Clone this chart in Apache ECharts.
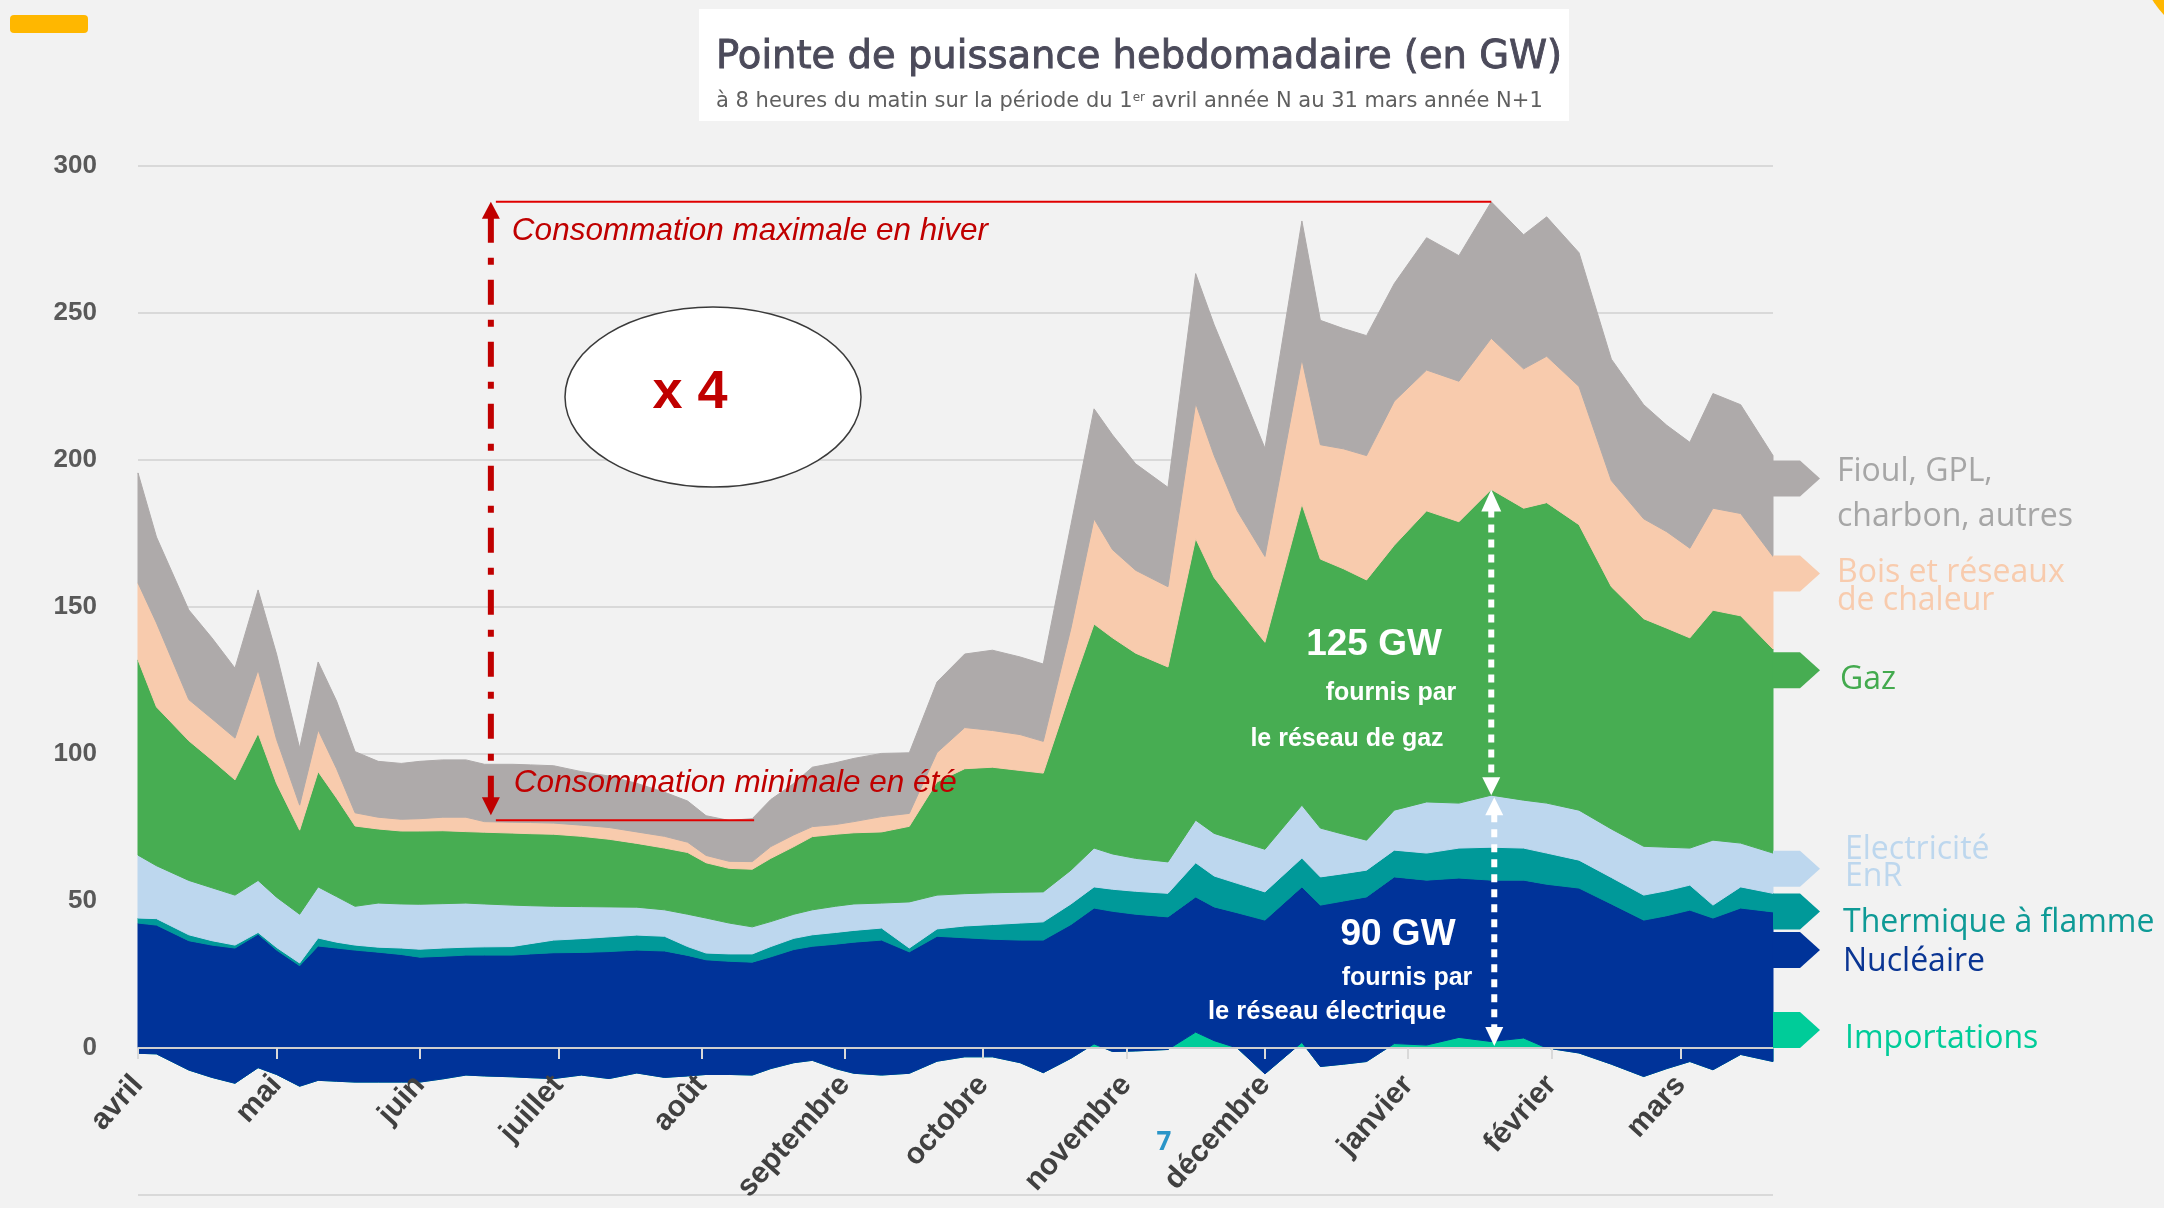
<!DOCTYPE html>
<html>
<head>
<meta charset="utf-8">
<script src="https://cdn.jsdelivr.net/npm/echarts@6/dist/echarts.min.js"></script>
<style>
html,body{margin:0;padding:0;background:#f2f2f2;}
#c{width:2164px;height:1208px;}
</style>
</head>
<body>
<div id="c"></div>
<script>
// ---- data (day offset from 1 April of year N, GW) ----
const days = [0,4,11,16,21,26,30,35,39,43,47,52,57,61,66,71,75,81,85,90,96,102,108,114,119,123,128,133,137,142,146,151,155,161,167,173,179,185,191,196,202,207,211,216,223,229,233,238,244,252,256,261,266,272,279,286,293,300,305,312,319,326,331,336,341,347,354];
const importations = [-1.8,-2,-7.5,-10,-12,-6.7,-9,-13,-11,-11.3,-11.6,-11.6,-11.6,-11.6,-10.5,-9.2,-9.5,-9.8,-10.1,-10.4,-9.2,-10.4,-8.5,-10,-9.5,-9,-9,-9.2,-7,-5,-4.2,-7,-8.6,-9.2,-8.6,-4.5,-3,-3,-5,-8.4,-3.5,1.4,-1.2,-1,-0.5,5.4,2.5,0,-8.8,1.9,-6.3,-5.5,-4.6,1.5,1,3.6,2.2,3.4,0,-1.7,-5.5,-9.7,-7,-4.6,-7.4,-2.2,-4.6];
const nucleaire = [44.3,43.8,44,45,46,45.4,42.3,41,45.7,45.3,44.9,44.2,43.4,42.5,41.7,40.8,41.1,41.4,42.1,42.8,41.7,43.2,41.8,43,41,39,38.5,38.4,38,38.5,38.8,42.3,44.6,45.9,41.3,42.5,40.5,40,41.7,45.1,45.5,46.2,47.7,46.5,45.1,46,45.5,46,52.3,52.9,54.9,55.5,56,56.7,56.1,54.2,54.9,53.7,55.7,56.1,54.5,53.2,52,51.5,51.6,49.8,50.9];
const thermique = [1.7,2.2,2,1.5,1,0.6,0.9,0.9,2.7,2,1.7,1.7,2.2,2.7,2.8,2.7,2.8,2.9,3.5,4.3,4.7,5,5.1,5,3,2.3,2.5,2.8,3.5,3.8,3.9,4,4,4.1,1.3,2.5,4,5,5.8,6.2,7,7.2,7.5,7.8,8,11.6,10.5,10,9.6,9.8,9.6,9.3,9.1,9.1,9.2,10.2,11.2,10.9,10.6,9.5,9,8.5,8.5,8.5,4.4,7.2,6.3];
const electriciteEnR = [21.4,18,18.5,18,17,17.7,17.1,16.6,17.4,15.5,13.2,15,15,15.3,15.1,15,14.6,14.1,12.9,11.5,10.9,10.2,9.5,9,11,11.9,10.5,9.2,8.5,8.2,8.5,8.9,9,8.5,15.7,11.5,11,10.8,10.5,10.2,11.5,13.2,12,11.2,10.7,14.5,14.5,14.5,14.5,18,16.6,13.4,10.2,13.6,17.4,15.3,17.7,16.3,17,17,16.5,16.6,14.8,12.6,22.1,14.9,13.7];
const gaz = [66.4,54,47.5,43.5,39.2,50,38.7,28.6,39.2,33.5,27.3,25.2,24.8,24.9,24.8,24.3,24.4,24.5,24.5,24.5,23.9,23,21.7,21,21,18.8,18.6,19.6,21.5,23,24.9,24.5,24.2,24.2,25.7,38.5,42.5,42.7,41.4,40.4,61.2,76.2,73.5,69.8,66.3,95.8,87,79.3,70.4,102.4,91.5,90.3,88.5,90.1,99,95.7,104,99.3,102.2,97.1,82.4,77.4,74.5,71.5,78.2,77.3,69.4];
const bois = [26.2,28.6,14,14,14.2,21.6,15,8.5,14.2,10,4.5,4,4,4.2,4.6,4.9,3.6,3.7,3.8,3.8,3.8,4,3.9,4,3.5,2.5,2.4,2.6,4,4,3.4,3.3,3.8,5.2,4.4,10,14,12.5,12.2,10.8,21.1,35.8,30,28.2,27.3,46,41.5,32.9,29.2,49.3,38.9,40.8,42.3,49,47.9,47.8,51.4,47.4,49.8,47,36.1,34,32.8,30.5,34.7,34.8,31.5];
const fioul = [37.4,29.2,30.5,27.5,23.8,27.2,29,19.4,23.1,23,20.8,19,19,19.5,19.5,19.5,19.5,19.7,19.6,19.5,18.2,17.5,16.5,15,14,13.5,13.9,14.6,16,17.5,20.2,21,21.5,21.5,20.6,24,25,27.3,26.4,26.3,35.2,37.4,39,36.2,33.8,44.1,44.5,44.3,36.8,47,42.3,40.9,40.8,40,45,42.7,46.4,45.6,47.4,45.5,41.3,38.8,36.2,36,39,37,34.3];

const monthDays = [0,30,61,91,122,153,183,214,244,275,306,334];
const monthNames = ['avril','mai','juin','juillet','août','septembre','octobre','novembre','décembre','janvier','février','mars'];

// ---- series definitions (stack order bottom -> top) ----
const layers = [
  {name:'Importations', data:importations, color:'#00cc99'},
  {name:'Nucléaire', data:nucleaire, color:'#003399'},
  {name:'Thermique à flamme', data:thermique, color:'#009999'},
  {name:'Electricité EnR', data:electriciteEnR, color:'#bdd7ee'},
  {name:'Gaz', data:gaz, color:'#47ad52'},
  {name:'Bois et réseaux de chaleur', data:bois, color:'#f8cbad'},
  {name:'Fioul, GPL, charbon, autres', data:fioul, color:'#aeaaaa'}
];

// legend arrows: level (GW) where each arrow sits, and the label text
const legendMarks = [
  {level:6.1,   lines:['Importations'], color:'#00cc99', dx:72, dys:[9]},
  {level:33.3,  lines:['Nucléaire'], color:'#0a3593', dx:70, dys:[12]},
  {level:46.4,  lines:['Thermique à flamme'], color:'#0e9a96', dx:70, dys:[11]},
  {level:61,    lines:['Electricité','EnR'], color:'#bdd7ee', dx:72, dys:[-19,8]},
  {level:128.5, lines:['Gaz'], color:'#43aa4e', dx:67, dys:[10]},
  {level:161.4, lines:['Bois et réseaux','de chaleur'], color:'#f8cbad', dx:64, dys:[-1,27]},
  {level:193.7, lines:['Fioul, GPL,','charbon, autres'], color:'#a6a6a6', dx:64, dys:[-7,38]}
];

// ---- cumulative stacking (Excel-like: every layer sits on the running sum) ----
let running = days.map(function(){ return 0; });
const bands = layers.map(function(l){
  const lower = running;
  const upper = lower.map(function(b,i){ return b + l.data[i]; });
  running = upper;
  return {name:l.name, color:l.color, rows: days.map(function(d,i){ return [d, lower[i], upper[i]]; })};
});

// one filled band per layer, drawn through the cartesian scales
function bandRenderer(color){
  return function(params, api){
    if (params.dataIndexInside !== 0) return null;
    const n = params.dataInsideLength;
    const pts = [];
    for (let j = 0; j < n; j++) pts.push(api.coord([api.value(0, j), api.value(2, j)]));
    for (let j = n - 1; j >= 0; j--) pts.push(api.coord([api.value(0, j), api.value(1, j)]));
    return {type:'polygon', shape:{points:pts}, style:{fill:color, stroke:color, lineWidth:1}, silent:true};
  };
}

const chart = echarts.init(document.getElementById('c'), null, {renderer:'canvas', width:2164, height:1208});
const lastDay = days[days.length-1];

const option = {
  animation:false,
  backgroundColor:'#f2f2f2',
  grid:{left:138, right:391, top:166, bottom:13, containLabel:false, outerBoundsMode:'none'},
  xAxis:{
    type:'value', min:0, max:lastDay, z:5,
    axisLine:{show:true, onZero:true, lineStyle:{color:'#cfcfcf', width:2}},
    axisTick:{show:true, customValues:monthDays, length:11, lineStyle:{color:'#d9d9d9', width:2}},
    axisLabel:{
      customValues:monthDays, showMinLabel:true,
      formatter:function(v){ const i = monthDays.indexOf(v); return i>=0 ? monthNames[i] : ''; },
      rotate:48, margin:32, color:'#404040', fontSize:30, fontWeight:'bold', fontFamily:'Liberation Sans'
    },
    splitLine:{show:false}
  },
  yAxis:{
    type:'value', min:-50, max:300, interval:50,
    axisLine:{show:false}, axisTick:{show:false},
    axisLabel:{formatter:function(v){return v<0?'':String(v);}, color:'#595959', fontSize:26, fontWeight:'bold', fontFamily:'Liberation Sans', margin:41},
    splitLine:{show:true, lineStyle:{color:'#d9d9d9', width:2}}
  },
  series: bands.map(function(b){
    return {
      type:'custom', name:b.name, coordinateSystem:'cartesian2d',
      data:b.rows, encode:{x:0, y:[1,2]},
      renderItem: bandRenderer(b.color),
      silent:true, z:2
    };
  })
};
chart.setOption(option);

// ---- annotations ----
const P = function(d,v){ return chart.convertToPixel({gridIndex:0},[d,v]); };

// month labels sit just under the zero line
const yZero = P(0,0)[1], yBottomAxis = P(0,-50)[1];
chart.setOption({xAxis:{axisLabel:{margin: 32 - (yBottomAxis - yZero)}}});

const totals = running;
const iMax = totals.indexOf(Math.max.apply(null,totals));
const maxTotal = totals[iMax];
const arrowDay = 76.4, minLevel = 77.5, minTipLevel = 79.2, minLineEndDay = 133.4;

const Z = 100;
const g = [];
function txt(x,y,t,size,color,al,extra){
  g.push({type:'text', x:x, y:y, z:Z, silent:true, style:Object.assign({
    text:t, fontSize:size, fill:color, fontFamily:'Liberation Sans',
    textAlign:al||'left', align:al||'left', textVerticalAlign:'middle', verticalAlign:'middle'
  }, extra||{})});
}
function poly(pts,fill){ g.push({type:'polygon', z:Z, silent:true, shape:{points:pts}, style:{fill:fill}}); }
function line(x1,y1,x2,y2,stroke,w,dash){ g.push({type:'line', z:Z, silent:true, shape:{x1:x1,y1:y1,x2:x2,y2:y2}, style:{stroke:stroke, lineWidth:w, lineDash:dash||null}}); }

// header decorations
g.push({type:'rect', z:Z, silent:true, shape:{x:10,y:15,width:78,height:18,r:4}, style:{fill:'#ffb700'}});
g.push({type:'circle', z:Z, silent:true, shape:{cx:2232,cy:-50,r:94}, style:{fill:'#ffb700'}});
g.push({type:'rect', z:Z, silent:true, shape:{x:699,y:9,width:870,height:112}, style:{fill:'#ffffff'}});
txt(716, 58, 'Pointe de puissance hebdomadaire (en GW)', 38.5, '#4b4a5a', 'left', {fontFamily:'DejaVu Sans', stroke:'#4b4a5a', lineWidth:0.9});
txt(716, 102, 'à 8 heures du matin sur la période du 1{s|er} avril année N au 31 mars année N+1', 21, '#5f5f5f', 'left',
    {fontFamily:'DejaVu Sans', rich:{s:{fontSize:12, fontFamily:'DejaVu Sans', fill:'#5f5f5f', verticalAlign:'top', padding:[0,0,9,0]}}});

// red max/min arrow
const xa = P(arrowDay,0)[0];
const yTop = P(arrowDay,maxTotal)[1];
const yMinLine = P(arrowDay,minLevel)[1];
const yBot = P(arrowDay,minTipLevel)[1];
const xPeak = P(days[iMax],0)[0];
const xMinEnd = P(minLineEndDay,0)[0];
line(xa+5, yTop, xPeak, yTop, '#e00000', 2);
line(xa+5, yMinLine, xMinEnd, yMinLine, '#e00000', 2);
line(xa, yTop+16, xa, yBot-17, '#c00000', 6, [25,15,7,15]);
poly([[xa,yTop],[xa-9,yTop+17],[xa+9,yTop+17]], '#c00000');
poly([[xa,yBot],[xa-9,yBot-18],[xa+9,yBot-18]], '#c00000');
txt(xa+21, yTop+29, 'Consommation maximale en hiver', 31.5, '#c00000', 'left', {fontStyle:'italic'});
txt(xa+23, yMinLine-37, 'Consommation minimale en été', 31.5, '#c00000', 'left', {fontStyle:'italic'});

// ellipse x4
g.push({type:'ellipse', z:Z, silent:true, shape:{cx:713,cy:397,rx:148,ry:90}, style:{fill:'#ffffff', stroke:'#3a3a3a', lineWidth:1.5}});
txt(690, 393, 'x 4', 54, '#c00000', 'center', {fontWeight:'bold'});

// white dashed arrows at the peak week
const eCum = bands[3].rows[iMax][2], gCum = bands[4].rows[iMax][2];
const yE = P(days[iMax],eCum)[1], yG = P(days[iMax],gCum)[1], y0 = P(days[iMax],0)[1];
const xw = xPeak, xl = xPeak+3;
line(xw, yG+20, xw, yE-16, '#ffffff', 6, [8,7]);
poly([[xw,yG],[xw-10,yG+22],[xw+10,yG+22]], '#ffffff');
poly([[xw,yE],[xw-9,yE-18],[xw+9,yE-18]], '#ffffff');
line(xl, yE+19, xl, y0-20, '#ffffff', 6, [8,7]);
poly([[xl,yE+2],[xl-9,yE+20],[xl+9,yE+20]], '#ffffff');
poly([[xl,y0-2],[xl-9,y0-21],[xl+9,y0-21]], '#ffffff');

txt(1374, 645, '125 GW', 37, '#ffffff', 'center', {fontWeight:'bold'});
txt(1391, 693, 'fournis par', 25, '#ffffff', 'center', {fontWeight:'bold'});
txt(1347, 739, 'le réseau de gaz', 25, '#ffffff', 'center', {fontWeight:'bold'});
txt(1398, 935, '90 GW', 37, '#ffffff', 'center', {fontWeight:'bold'});
txt(1407, 978, 'fournis par', 25, '#ffffff', 'center', {fontWeight:'bold'});
txt(1327, 1012, 'le réseau électrique', 25.5, '#ffffff', 'center', {fontWeight:'bold'});

// legend arrows + labels on the right
const xEnd = P(lastDay,0)[0];
legendMarks.forEach(function(m, k){
  const yc = P(lastDay, m.level)[1];
  poly([[xEnd,yc-18],[xEnd+27,yc-18],[xEnd+47,yc],[xEnd+27,yc+18],[xEnd,yc+18]], layers[k].color);
  m.lines.forEach(function(t,j){
    txt(xEnd+m.dx, yc+m.dys[j], t, 32, m.color, 'left', {fontFamily:'Open Sans'});
  });
});

// page number
txt(1164, 1143, '7', 26, '#2a95c8', 'center', {fontFamily:'Open Sans', fontWeight:'bold'});

chart.setOption({graphic:g});
</script>
</body>
</html>
